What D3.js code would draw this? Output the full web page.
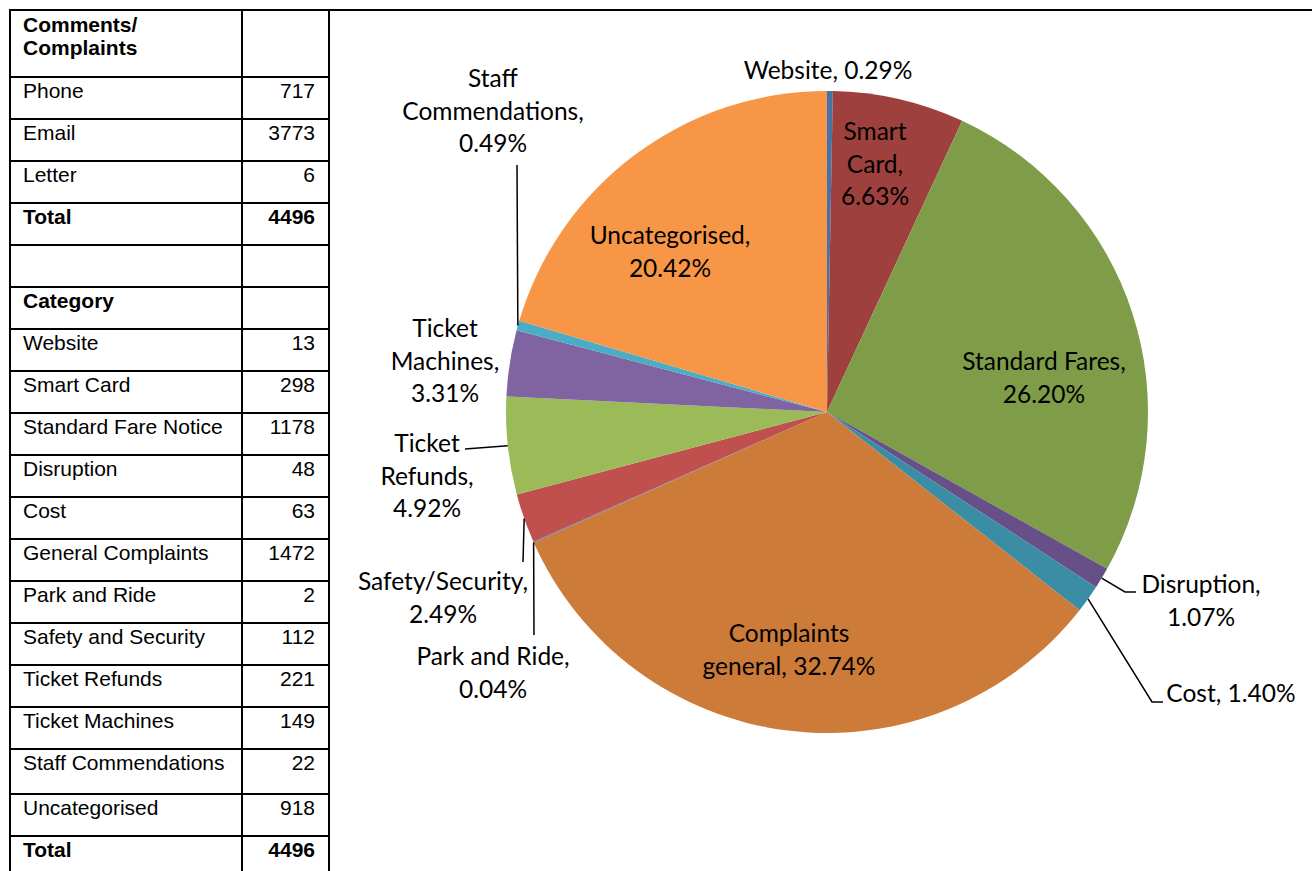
<!DOCTYPE html>
<html lang="en">
<head>
    <meta charset="UTF-8">
    <title>Comments / Complaints by category</title>
    <style>
        body { margin: 0; background: #fff; }
        svg { display: block; }
        .cell { font-family: "Liberation Sans", Arial, sans-serif; font-size: 21px; fill: #000; }
        .bold { font-weight: bold; }
        .grid { stroke: #000; stroke-width: 2; }
        .plabel { font-family: Lato, "Open Sans", sans-serif; font-size: 24.5px; fill: #000; }
        .leader { stroke: #000; stroke-width: 1.5; fill: none; }
    </style>
</head>
<body>
    <svg id="chart" width="1312" height="871"></svg>

    <script src="https://d3js.org/d3.v7.min.js"></script>
    <script>
        // data
        const commentTypes = ["Phone", "Email", "Letter"];
        const commentCounts = [717, 3773, 6];
        const categories = ["Website", "Smart Card", "Standard Fare Notice", "Disruption", "Cost",
            "General Complaints", "Park and Ride", "Safety and Security", "Ticket Refunds",
            "Ticket Machines", "Staff Commendations", "Uncategorised"];
        const categoryCounts = [13, 298, 1178, 48, 63, 1472, 2, 112, 221, 149, 22, 918];
        const pieLabels = ["Website", "Smart Card", "Standard Fares", "Disruption", "Cost",
            "Complaints general", "Park and Ride", "Safety/Security", "Ticket Refunds",
            "Ticket Machines", "Staff Commendations", "Uncategorised"];

        const sliceColors = ["#4672a8", "#9e413e", "#7f9c49", "#674f87", "#3b8da5", "#cc7b38",
            "#4f81bd", "#c0504d", "#9bbb59", "#8064a2", "#4bacc6", "#f79646"];

        const svg = d3.select("#chart");

        // ---- table ----
        const colX = [10, 242, 329];
        const rows = [];
        commentTypes.forEach((t, i) => rows.push({ name: t, value: commentCounts[i] }));
        rows.push({ name: "Total", value: d3.sum(commentCounts), bold: true });
        rows.push({ name: "", value: null });
        rows.push({ name: "Category", value: null, bold: true });
        categories.forEach((c, i) => rows.push({ name: c, value: categoryCounts[i] }));
        rows.push({ name: "Total", value: d3.sum(categoryCounts), bold: true });

        let y = 77;
        rows.forEach(r => {
            r.y = y;
            y += r.name === "Staff Commendations" ? 45 : 42;
        });

        const table = svg.append("g");
        // header
        table.append("text").attr("class", "cell bold").attr("x", 23).attr("y", 32).text("Comments/");
        table.append("text").attr("class", "cell bold").attr("x", 23).attr("y", 55).text("Complaints");

        table.selectAll(".name").data(rows).enter().append("text")
            .attr("class", d => "cell name" + (d.bold ? " bold" : ""))
            .attr("x", 23).attr("y", d => d.y + 21)
            .text(d => d.name);
        table.selectAll(".val").data(rows.filter(d => d.value !== null)).enter().append("text")
            .attr("class", d => "cell val" + (d.bold ? " bold" : ""))
            .attr("x", 315).attr("y", d => d.y + 21)
            .attr("text-anchor", "end")
            .text(d => d.value);

        table.selectAll(".hline").data(rows).enter().append("line")
            .attr("class", "grid")
            .attr("x1", colX[0]).attr("x2", colX[2])
            .attr("y1", d => d.y).attr("y2", d => d.y);
        table.append("line").attr("class", "grid")
            .attr("x1", colX[0] - 1).attr("x2", 1312).attr("y1", 10).attr("y2", 10);
        table.selectAll(".vline").data(colX).enter().append("line")
            .attr("class", "grid")
            .attr("x1", d => d).attr("x2", d => d).attr("y1", 10).attr("y2", 871);

        // ---- pie ----
        const cx = 827, cy = 412, R = 321;
        const total = d3.sum(categoryCounts);
        const pct = d3.format(".2%");

        const pie = d3.pie().sort(null).value(d => d);
        const arc = d3.arc().innerRadius(0).outerRadius(R);
        const arcs = pie(categoryCounts);

        const pg = svg.append("g").attr("transform", `translate(${cx},${cy})`);
        pg.selectAll("path").data(arcs).enter().append("path")
            .attr("d", arc)
            .attr("fill", (d, i) => sliceColors[i]);

        // label layout: block centre (first line) relative to pie centre, wrap mode, leader bends
        const labelLayout = [
            { dx: 1, dy: -343, wrap: "single" },
            { dx: 48, dy: -282, wrap: "words" },
            { dx: 217, dy: -52, wrap: "two" },
            { dx: 374, dy: 171, wrap: "two", leader: [[298, 180], [309, 180]] },
            { dx: 404, dy: 280, wrap: "single", leader: [[325, 290], [336, 290]] },
            { dx: -38, dy: 220, wrap: "first" },
            { dx: -334, dy: 243, wrap: "two", leader: [[-293, 223]] },
            { dx: -384, dy: 168, wrap: "two", leader: [[-304, 150]] },
            { dx: -400, dy: 30, wrap: "words", leader: [[-362, 37]] },
            { dx: -382, dy: -85, wrap: "words" },
            { dx: -334, dy: -335, wrap: "words", leader: [[-310, -247]] },
            { dx: -157, dy: -178, wrap: "two" }
        ];

        function wrapLines(name, p, mode) {
            const words = name.split(" ");
            if (mode === "single") return [`${name}, ${p}`];
            if (mode === "two") return [`${name},`, p];
            if (mode === "first") return [words[0], `${words.slice(1).join(" ")}, ${p}`];
            const out = words.slice();
            out[out.length - 1] += ",";
            out.push(p);
            return out;
        }

        arcs.forEach((a, i) => {
            const lay = labelLayout[i];
            const mid = (a.startAngle + a.endAngle) / 2;
            if (lay.leader) {
                const pts = [[R * Math.sin(mid), -R * Math.cos(mid)]].concat(lay.leader);
                pg.append("path").attr("class", "leader").attr("d", d3.line()(pts));
            }
            const lines = wrapLines(pieLabels[i], pct(categoryCounts[i] / total), lay.wrap);
            const t = pg.append("text").attr("class", "plabel")
                .attr("text-anchor", "middle")
                .attr("x", lay.dx).attr("y", lay.dy)
                .attr("dominant-baseline", "central");
            lines.forEach((l, k) => {
                t.append("tspan").attr("x", lay.dx).attr("dy", k === 0 ? 0 : 32.5).text(l);
            });
        });
    </script>
</body>
</html>
